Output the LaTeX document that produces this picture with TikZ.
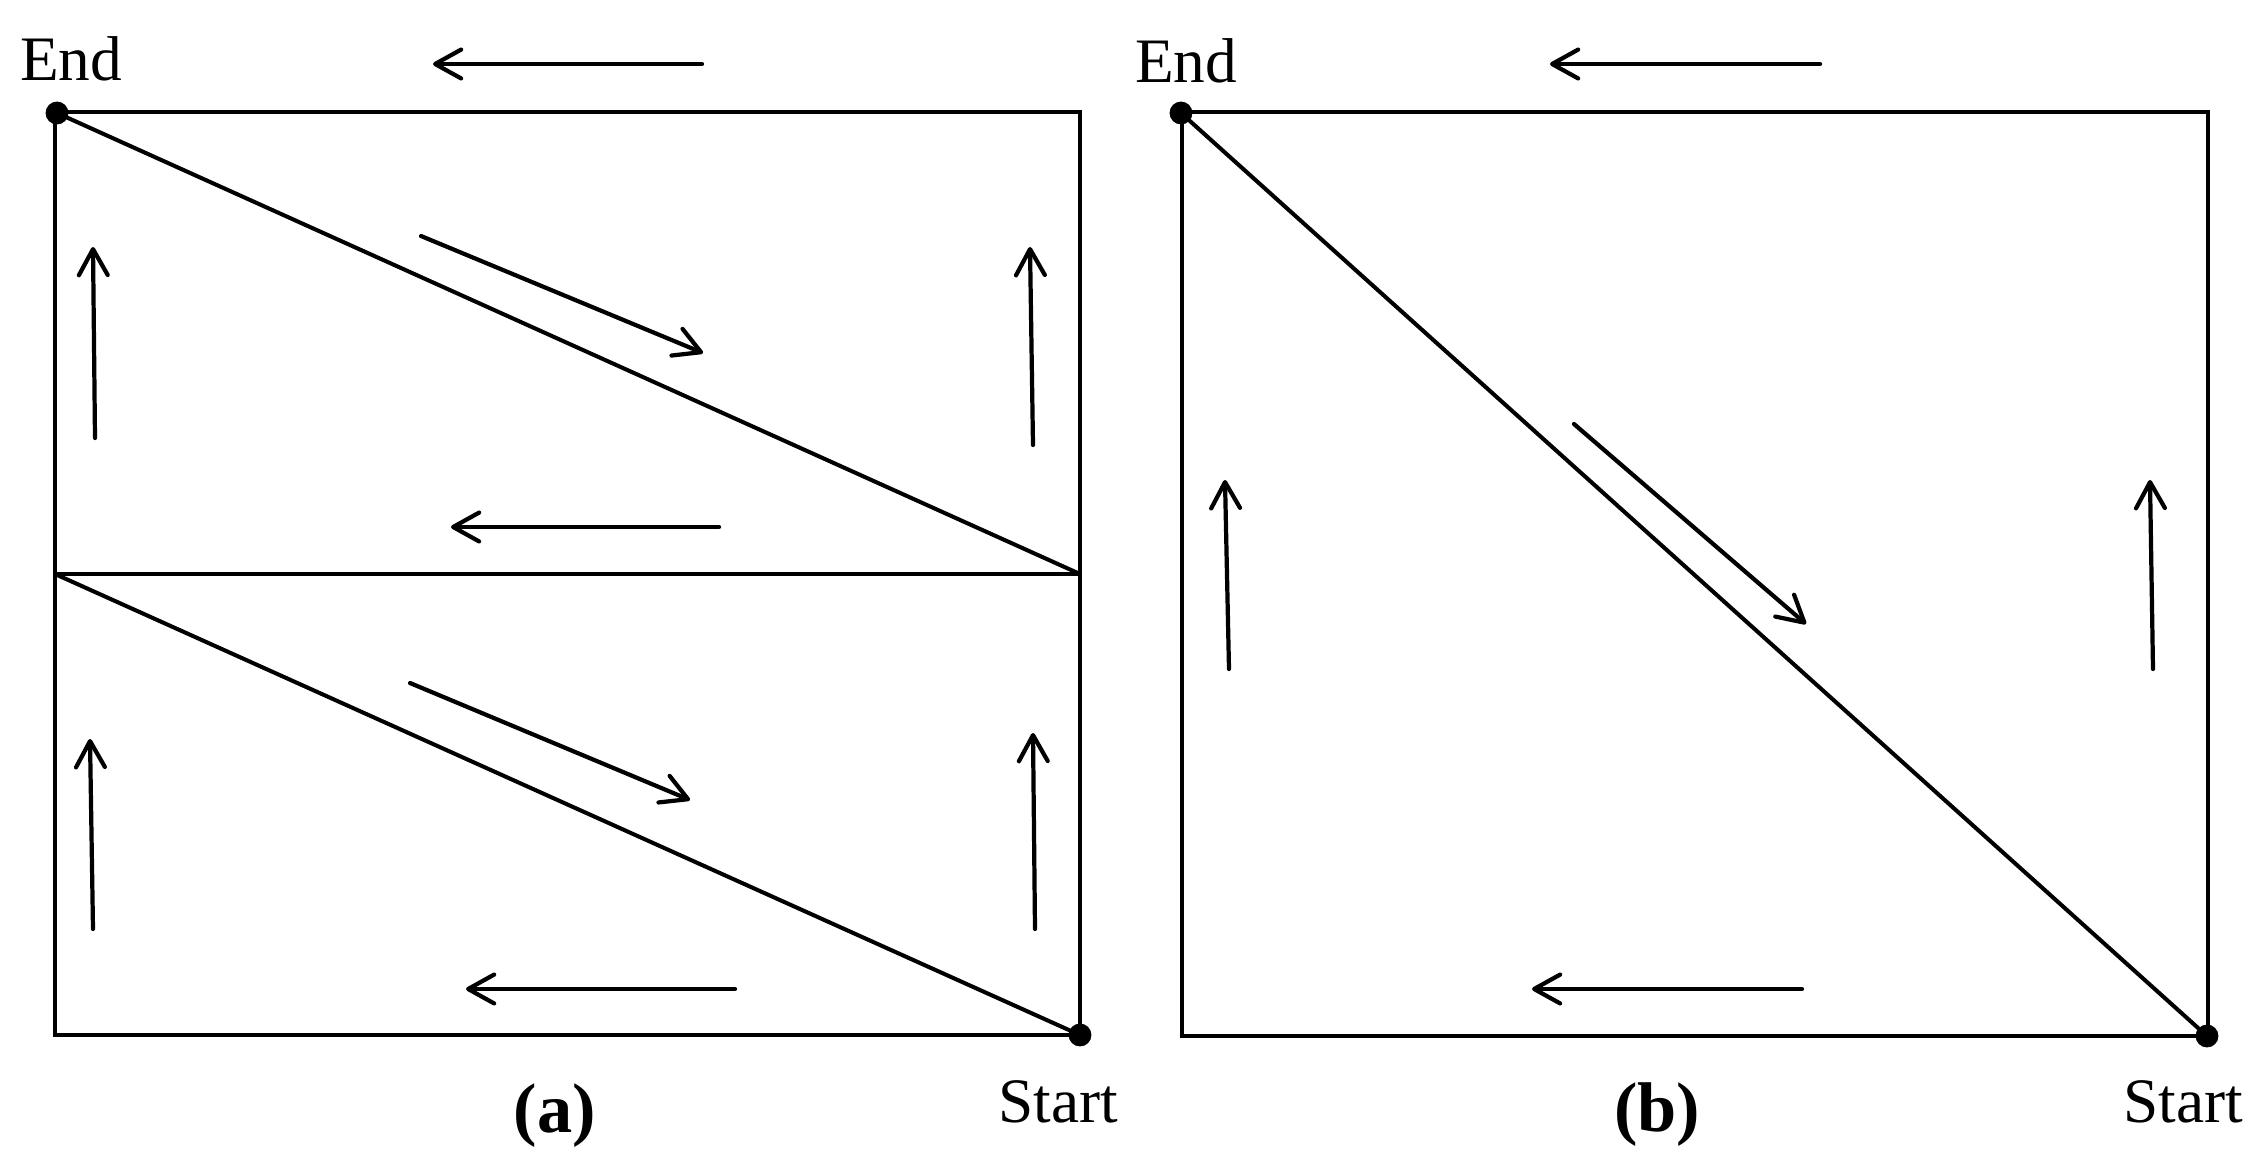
\documentclass[tikz,border=0pt]{standalone}
\usepackage{fontspec}
\setmainfont{Liberation Serif}
\usetikzlibrary{arrows.meta}

\begin{document}
\begin{tikzpicture}[x=0.01cm,y=-0.01cm,
  frame/.style={line width=1.4pt},
  diag/.style={line width=1.15pt},
  flow/.style={line width=1.2pt,line cap=round,
    -{Straight Barb[length=7.4pt,width=8.2pt,round]}},
  dot/.style={circle,fill,inner sep=0pt,minimum size=6.5pt},
  lbl/.style={font=\fontsize{18}{20}\selectfont},
  sublbl/.style={font=\fontsize{20}{24}\selectfont\bfseries}]
\useasboundingbox (0,0) rectangle (2265,1166);
%
\coordinate (aNW) at (55,112);
\coordinate (aNE) at (1080,112);
\coordinate (aW) at (55,574);
\coordinate (aE) at (1080,574);
\coordinate (aSW) at (55,1035);
\coordinate (aSE) at (1080,1035);
\node[dot] (aEnd) at (57,113) {};
\node[dot] (aStart) at (1080,1035) {};
\draw[frame] (aNW) -- (aNE) -- (aSE) -- (aSW) -- cycle;
\draw[frame] (aW) -- (aE);
\draw[diag] (aEnd.center) -- (aE);
\draw[diag] (aW) -- (aStart.center);
\node[lbl,anchor=base] (aEndL) at (71,80) {End};
\node[lbl,anchor=base] (aStartL) at (1058,1122) {Start};
\node[sublbl] (aSub) at (555,1116) {(a)};
%
\draw[flow] (702,64) -- (433,64);
\draw[flow] (421,236) -- (703,353);
\draw[flow] (719,527) -- (451,527);
\draw[flow] (95,438) -- (93,247);
\draw[flow] (1033,445) -- (1030,247);
\draw[flow] (410,683) -- (690,800);
\draw[flow] (93,929) -- (90,739);
\draw[flow] (1035,929) -- (1033,733);
\draw[flow] (735,989) -- (466,989);
%
\coordinate (bNW) at (1182,112);
\coordinate (bNE) at (2208,112);
\coordinate (bSW) at (1182,1036);
\coordinate (bSE) at (2208,1036);
\node[dot] (bEnd) at (1181,113) {};
\node[dot] (bStart) at (2207,1036) {};
\draw[frame] (bNW) -- (bNE) -- (bSE) -- (bSW) -- cycle;
\draw[diag] (bEnd.center) -- (bStart.center);
\node[lbl,anchor=base] (bEndL) at (1186,82) {End};
\node[lbl,anchor=base] (bStartL) at (2183,1122) {Start};
\node[sublbl] (bSub) at (1657,1115) {(b)};
%
\draw[flow] (1820,64) -- (1550,64);
\draw[flow] (1574,424) -- (1806,624);
\draw[flow] (1229,669) -- (1225,480);
\draw[flow] (2153,669) -- (2150,480);
\draw[flow] (1802,989) -- (1532,989);
\end{tikzpicture}
\end{document}
